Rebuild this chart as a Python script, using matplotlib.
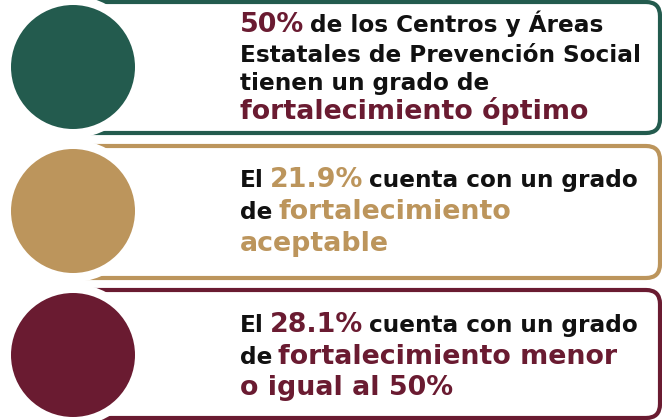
import matplotlib
matplotlib.use('Agg')
from matplotlib import pyplot as plt
import matplotlib.patches as patches

# valores
porcentajes = [50, 21.9, 28.1]
niveles = ['óptimo', 'aceptable', 'menor o igual al 50%']
colores = ['#235b4e', '#bc955c', '#6a1b31']
negro = '#111111'
guinda = '#6a1b31'
dorado = '#bc955c'

# lineas de texto: (texto, color, resaltado)
lineas = [
    [
        [(f'{porcentajes[0]:g}%', guinda, True), ('de los Centros y Áreas', negro, False)],
        [('Estatales de Prevención Social', negro, False)],
        [('tienen un grado de', negro, False)],
        [('fortalecimiento ' + niveles[0], guinda, True)],
    ],
    [
        [('El', negro, False), (f'{porcentajes[1]:g}%', dorado, True), ('cuenta con un grado', negro, False)],
        [('de', negro, False), ('fortalecimiento', dorado, True)],
        [(niveles[1], dorado, True)],
    ],
    [
        [('El', negro, False), (f'{porcentajes[2]:g}%', guinda, True), ('cuenta con un grado', negro, False)],
        [('de', negro, False), ('fortalecimiento menor', guinda, True)],
        [('o igual al 50%', guinda, True)],
    ],
]
baselines = [[32, 62, 90, 119], [187, 219, 251], [332, 364, 395]]
cajas = [(2, 133), (146, 278), (290, 418)]
centros_y = [67, 211, 355]

fig = plt.figure(figsize=(6.62, 4.2), dpi=100)
ax = fig.add_axes([0, 0, 1, 1])
ax.set_xlim(0, 662)
ax.set_ylim(420, 0)
ax.axis('off')

for i in range(3):
    y0, y1 = cajas[i]
    caja = patches.FancyBboxPatch((70, y0), 590, y1 - y0,
                                  boxstyle='round,pad=0,rounding_size=14',
                                  fc='white', ec=colores[i], lw=3)
    ax.add_patch(caja)
    ax.add_patch(patches.Circle((73, centros_y[i]), 71, fc='white', ec='none'))
    ax.add_patch(patches.Circle((73, centros_y[i]), 62, fc=colores[i], ec='none'))

renderer = fig.canvas.get_renderer()
inv = ax.transData.inverted()
for i in range(3):
    for j, linea in enumerate(lineas[i]):
        x = 240
        for txt, col, big in linea:
            t = ax.text(x, baselines[i][j], txt, color=col,
                        fontsize=19.4 if big else 16.7, fontweight='bold',
                        family=['DejaVu Sans'],
                        ha='left', va='baseline')
            bb = t.get_window_extent(renderer)
            x = inv.transform((bb.x1, 0))[0] + 6

fig.savefig('out.png', dpi=100)
